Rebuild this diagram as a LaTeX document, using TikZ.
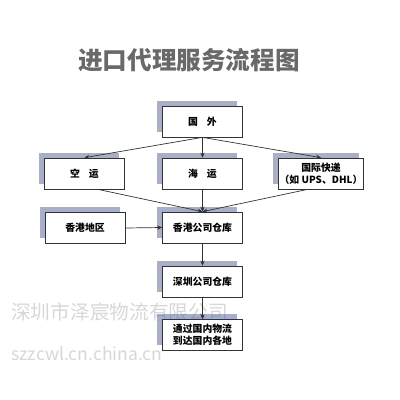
\documentclass[tikz,border=0pt]{standalone}
\usepackage{fontspec}
\newfontfamily\cjk{Noto Sans CJK SC}
\usetikzlibrary{shadows,arrows.meta}
\definecolor{cTitle}{RGB}{105,105,105}
\definecolor{cShadow}{RGB}{95,110,160}
\definecolor{cMark}{RGB}{215,215,215}

\tikzset{
  flowbox/.style={draw=black!80, line width=0.5pt, fill=white,
    minimum width=80*0.25mm, minimum height=31*0.25mm, inner sep=1pt,
    align=center, font=\cjk\bfseries\fontsize{7}{8.5}\selectfont,
    general shadow={shadow xshift=-1.3mm, shadow yshift=1.3mm,
      fill=cShadow, opacity=0.55}},
  flowarrow/.style={draw=black!80, line width=0.5pt, -{Stealth[length=3.5pt,width=3pt]}}
}

\begin{document}
\begin{tikzpicture}[x=0.25mm, y=-0.25mm]

  % ---- canvas (400 x 400) ----
  \useasboundingbox (0,0) rectangle (400,400);

  % ---- title ----
  \node[cTitle, font=\cjk\bfseries\fontsize{17.5}{20}\selectfont] (title) at (189,60) {进口代理服务流程图};

  % ---- watermark (behind the boxes) ----
  \node[cMark, anchor=west, inner sep=0pt, font=\cjk\fontsize{14}{16}\selectfont] (mark1) at (11,312) {深圳市泽宸物流有限公司};
  \node[cMark, anchor=west, inner sep=0pt, font=\cjk\fontsize{12.5}{14}\selectfont] (mark2) at (11,354) {szzcwl.cn.china.cn};

  % ---- boxes ----
  \node[flowbox] (guowai) at (202.5,121.5) {国\hspace{0.9em}外};
  \node[flowbox] (kongyun) at (84.5,173.5) {空\hspace{0.9em}运};
  \node[flowbox] (haiyun) at (202.5,173.5) {海\hspace{0.9em}运};
  \node[flowbox] (kuaidi) at (321,173.5) {国际快递\\（如 UPS、DHL）};
  \node[flowbox] (hkarea) at (85,228) {香港地区};
  \node[flowbox] (hkstore) at (202.5,227.5) {香港公司仓库};
  \node[flowbox] (szstore) at (202.5,281.5) {深圳公司仓库};
  \node[flowbox] (domestic) at (202.5,335) {通过国内物流\\到达国内各地};

  % ---- arrows ----
  \draw[flowarrow] (guowai.south) -- (kongyun.north);
  \draw[flowarrow] (guowai.south) -- (haiyun.north);
  \draw[flowarrow] (guowai.south) -- (kuaidi.north);
  \draw[flowarrow] (kongyun.-50) -- (hkstore.north);
  \draw[flowarrow] (haiyun.south) -- (hkstore.north);
  \draw[flowarrow] (kuaidi.-130) -- (hkstore.north);
  \draw[flowarrow] (hkarea.east) -- (hkstore.west);
  \draw[flowarrow] (hkstore.south) -- (szstore.north);
  \draw[flowarrow] (szstore.south) -- (domestic.north);

\end{tikzpicture}
\end{document}
